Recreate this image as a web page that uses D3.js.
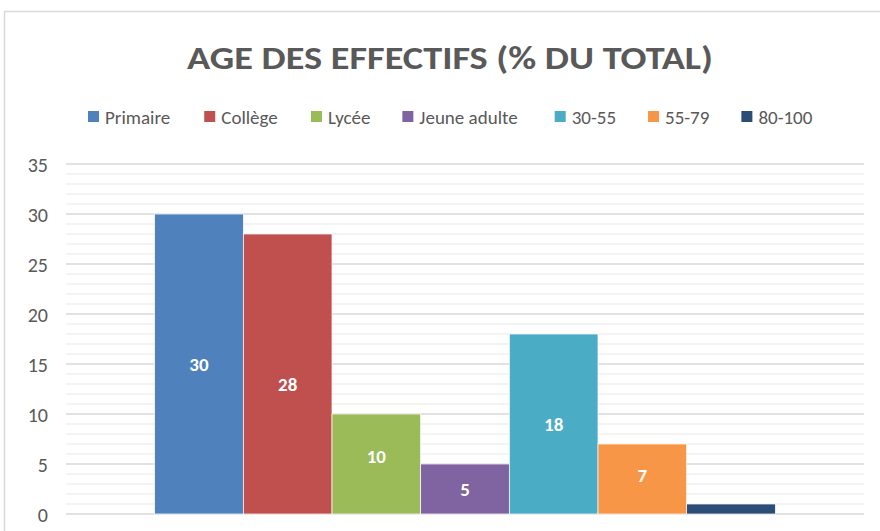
<!DOCTYPE html>
<html><head><meta charset="utf-8">
<script src="https://cdn.jsdelivr.net/npm/d3@7"></script>
<style>body{margin:0;background:#fff}svg{display:block}text{font-family:Carlito,Lato,"Open Sans",sans-serif}</style>
</head><body>
<svg id="c" width="880" height="531"></svg>
<script>
const title = "AGE DES EFFECTIFS (% DU TOTAL)";
const series = ["Primaire","Collège","Lycée","Jeune adulte","30-55","55-79","80-100"];
const values = [30, 28, 10, 5, 18, 7, 1];
const labelAt = [15, 13, 5.8, 2.5, 9, 3.9, null]; // label anchor, in value units
const colors = ["#4F81BD","#C0504D","#9BBB59","#8064A2","#4BACC6","#F79646","#2C4D75"];
const yTicks = [0,5,10,15,20,25,30,35];

const svg = d3.select("#c");
svg.append("rect").attr("x",4.5).attr("y",11.5).attr("width",900).attr("height",600)
  .attr("fill","#fff").attr("stroke","#d9d9d9").attr("stroke-width",1.5);

const plot = {left:66, right:864, top:164, bottom:514};
const y = d3.scaleLinear().domain([0,35]).range([plot.bottom, plot.top]);
const x = d3.scaleBand().domain(series).range([plot.left, plot.right]).paddingInner(0).paddingOuter(1);

// minor gridlines
svg.append("g").selectAll("line").data(d3.range(0,36).filter(v=>v%5!==0)).join("line")
  .attr("x1",plot.left).attr("x2",plot.right).attr("y1",d=>y(d)).attr("y2",d=>y(d))
  .attr("stroke","#f0f0f0").attr("stroke-width",1.5);
// major gridlines
svg.append("g").selectAll("line").data(yTicks).join("line")
  .attr("x1",plot.left).attr("x2",plot.right).attr("y1",d=>y(d)).attr("y2",d=>y(d))
  .attr("stroke","#d9d9d9").attr("stroke-width",1.5);

// y axis labels
const yAxis = d3.axisLeft(y).tickValues(yTicks).tickSize(0).tickPadding(0);
const gy = svg.append("g").attr("transform","translate(48,0)").call(yAxis);
gy.select(".domain").remove();
gy.selectAll("text").attr("fill","#595959").style("font-size","20px").attr("dy","0.35em");

// bars
svg.append("g").selectAll("rect").data(series).join("rect")
  .attr("x",d=>x(d)).attr("width",x.bandwidth())
  .attr("y",(d,i)=>y(values[i])).attr("height",(d,i)=>y(0)-y(values[i]))
  .attr("fill",(d,i)=>colors[i]).attr("stroke","#fff").attr("stroke-width",0.7);

// data labels
svg.append("g").selectAll("text").data(series.filter((d,i)=>labelAt[i]!==null)).join("text")
  .attr("x",d=>x(d)+x.bandwidth()/2)
  .attr("y",d=>y(labelAt[series.indexOf(d)]))
  .attr("dy","0.36em").attr("text-anchor","middle")
  .attr("fill","#fff").style("font-size","19px").style("font-weight","bold")
  .text(d=>values[series.indexOf(d)]);

// title
const t = svg.append("text").attr("x",450).attr("y",69).attr("text-anchor","middle")
  .attr("fill","#595959").style("font-size","33px").style("font-weight","bold").text(title);
const tw = t.node().getComputedTextLength();
if (Math.abs(tw-526)>4) t.attr("textLength",526).attr("lengthAdjust","spacingAndGlyphs");

// legend
const leg = svg.append("g");
const items = [];
series.forEach((s,i)=>{
  const g = leg.append("g");
  g.append("rect").attr("x",0).attr("y",-6).attr("width",11).attr("height",11).attr("fill",colors[i]);
  const tx = g.append("text").attr("x",17).attr("y",0).attr("dy","0.35em")
    .attr("fill","#595959").style("font-size","19px").text(s);
  const w = 17 + tx.node().getComputedTextLength();
  items.push({g,w});
});
const gap = 24;
const total = d3.sum(items,d=>d.w) + gap*(items.length-1);
let lx = 88;
const scaleL = (819-88)/total;
items.forEach(it=>{ it.g.attr("transform",`translate(${lx},117)`); lx += (it.w+gap)*scaleL; });
</script>
</body></html>
